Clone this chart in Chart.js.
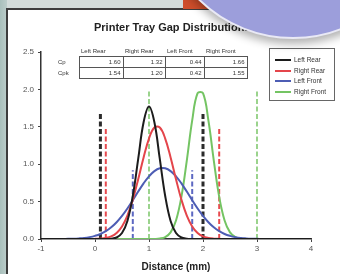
<!DOCTYPE html>
<html lang="en">
<head>
  <meta charset="UTF-8">
  <title>Printer Tray Gap Distributions</title>
  <script src="https://cdn.jsdelivr.net/npm/chart.js"></script>
  <style>
    body {
      margin: 0;
      width: 340px;
      height: 274px;
      overflow: hidden;
      position: relative;
      font-family: "Liberation Sans", Arial, sans-serif;
      background: #d3dcda;
    }
    .strip {
      position: absolute;
      left: 0; top: 0;
      width: 7px; height: 274px;
      background: linear-gradient(to right, #a9c0bc, #bccdca);
    }
    .panel {
      position: absolute;
      left: 6px; top: 8px;
      width: 340px; height: 280px;
      background: #fff;
      border-left: 2px solid #3d3d3d;
      border-top: 2px solid #3d3d3d;
    }
    #chart { position: absolute; left: 0; top: 0; }
    .title {
      position: absolute;
      left: 94px; top: 21px;
      font-weight: bold;
      font-size: 11px;
      color: #222;
      white-space: nowrap;
    }
    table.cp {
      position: absolute;
      left: 57px; top: 47px;
      border-collapse: collapse;
      font-size: 6px;
      color: #333;
    }
    table.cp td { padding: 0 2px; height: 10px; line-height: 10px; }
    table.cp tr.head td { height: 9px; line-height: 9px; text-align: left; }
    table.cp tr.val td.v { border: 1px solid #555; text-align: right; }
    table.cp tr.val td.lab { text-align: left; padding-left: 1px; }
    .legend {
      position: absolute;
      left: 269px; top: 48px;
      width: 64px; height: 51px;
      border: 1px solid #666;
      background: #fff;
      font-size: 6.5px;
      color: #333;
    }
    .legend div { height: 10.5px; line-height: 10.5px; white-space: nowrap; }
    .legend div:first-child { margin-top: 6px; }
    .legend span.swatch {
      display: inline-block;
      width: 16px; height: 2px;
      vertical-align: middle;
      margin: 0 3px 0 5px;
    }
    .orange {
      position: absolute;
      left: 183px; top: 0;
      width: 36px; height: 9px;
      background: #cf4e2b;
    }
    .disc {
      position: absolute;
      left: 158px; top: -231px;
      width: 266px; height: 266px;
      border-radius: 50%;
      background: #9c9edb;
      border: 2px solid #e9e9f5;
      box-shadow: 0 5px 8px rgba(0,0,0,0.3);
    }
  </style>
</head>
<body>
  <div class="strip"></div>
  <div class="panel"></div>
  <canvas id="chart" width="340" height="274"></canvas>
  <div class="title">Printer Tray Gap Distributions</div>
  <table class="cp" id="cpTable"></table>
  <div class="legend" id="legend"></div>
  <div class="orange"></div>
  <div class="disc"></div>

  <script>
    // distance grid (mm)
    const distance = [
      -1.0, -0.9, -0.8, -0.7, -0.6, -0.5, -0.4, -0.3, -0.2, -0.1,
      0.0, 0.1, 0.2, 0.3, 0.4, 0.5, 0.6, 0.7, 0.8, 0.9,
      1.0, 1.1, 1.2, 1.3, 1.4, 1.5, 1.6, 1.7, 1.8, 1.9,
      2.0, 2.1, 2.2, 2.3, 2.4, 2.5, 2.6, 2.7, 2.8, 2.9,
      3.0, 3.1, 3.2, 3.3, 3.4, 3.5, 3.6, 3.7, 3.8, 3.9,
      4.0
    ];

    const leftRear = [
      0, 0, 0, 0, 0, 0, 0, 0, 0, 0,
      0, 0, 0.001, 0.004, 0.02, 0.08, 0.24, 0.575, 1.07, 1.56,
      1.77, 1.56, 1.07, 0.575, 0.24, 0.08, 0.02, 0.004, 0.001, 0,
      0, 0, 0, 0, 0, 0, 0, 0, 0, 0,
      0, 0, 0, 0, 0, 0, 0, 0, 0, 0,
      0
    ];
    const rightRear = [
      0, 0, 0, 0, 0, 0, 0, 0, 0, 0,
      0.002, 0.005, 0.014, 0.035, 0.081, 0.168, 0.313, 0.526, 0.799, 1.091,
      1.343, 1.49, 1.49, 1.343, 1.091, 0.799, 0.526, 0.313, 0.168, 0.081,
      0.035, 0.014, 0.005, 0.002, 0, 0, 0, 0, 0, 0,
      0, 0, 0, 0, 0, 0, 0, 0, 0, 0,
      0
    ];
    const leftFront = [
      0, 0, 0, 0, 0.001, 0.002, 0.004, 0.008, 0.014, 0.025,
      0.042, 0.067, 0.105, 0.156, 0.224, 0.308, 0.408, 0.519, 0.634, 0.744,
      0.838, 0.908, 0.945, 0.945, 0.908, 0.838, 0.744, 0.634, 0.519, 0.408,
      0.308, 0.224, 0.156, 0.105, 0.067, 0.042, 0.025, 0.014, 0.008, 0.004,
      0.002, 0.001, 0, 0, 0, 0, 0, 0, 0, 0,
      0
    ];
    const rightFront = [
      0, 0, 0, 0, 0, 0, 0, 0, 0, 0,
      0, 0, 0, 0, 0, 0, 0, 0, 0, 0,
      0, 0.001, 0.006, 0.025, 0.088, 0.247, 0.564, 1.049, 1.585, 1.949,
      1.949, 1.585, 1.049, 0.564, 0.247, 0.088, 0.025, 0.006, 0.001, 0,
      0, 0, 0, 0, 0, 0, 0, 0, 0, 0,
      0
    ];

    const seriesNames = ['Left Rear', 'Right Rear', 'Left Front', 'Right Front'];
    // spec limits drawn as dashed verticals
    const lowerLimit = [0.1, 0.2, 0.7, 1.0];
    const upperLimit = [2.0, 2.3, 1.8, 3.0];
    const limitHeight = [1.7, 1.5, 0.92, 2.0];
    // capability table
    const cpValues = [1.60, 1.32, 0.44, 1.66];
    const cpkValues = [1.54, 1.20, 0.42, 1.55];

    const curves = [leftRear, rightRear, leftFront, rightFront];
    const lineColors = ['#1c1c1c', '#e4454b', '#4d5db4', '#74c463'];
    const dashColors = ['#2b2b2b', '#e84a4f', '#5d68c2', '#82c971'];
    const dashWidths = [3, 2, 2, 1.6];

    // table
    const table = document.getElementById('cpTable');
    const colW = [45, 43, 40, 44];
    let html = '<tr class="head"><td style="width:18px"></td>' +
      seriesNames.map((n, i) => `<td style="width:${colW[i] - 5}px">${n}</td>`).join('') + '</tr>';
    html += '<tr class="val"><td class="lab">Cp</td>' +
      cpValues.map(v => `<td class="v">${v.toFixed(2)}</td>`).join('') + '</tr>';
    html += '<tr class="val"><td class="lab">Cpk</td>' +
      cpkValues.map(v => `<td class="v">${v.toFixed(2)}</td>`).join('') + '</tr>';
    table.innerHTML = html;

    // legend
    const legend = document.getElementById('legend');
    seriesNames.forEach((n, i) => {
      const row = document.createElement('div');
      row.innerHTML = `<span class="swatch" style="background:${lineColors[i]}"></span>${n}`;
      legend.appendChild(row);
    });

    const datasets = [];
    curves.forEach((c, k) => {
      datasets.push({
        label: seriesNames[k],
        data: distance.map((x, i) => ({ x: x, y: c[i] })),
        borderColor: lineColors[k],
        borderWidth: 2,
        pointRadius: 0,
        tension: 0.4,
        fill: false
      });
    });
    seriesNames.forEach((n, k) => {
      [lowerLimit[k], upperLimit[k]].forEach(lim => {
        datasets.push({
          label: n + ' limit',
          data: [{ x: lim, y: 0 }, { x: lim, y: limitHeight[k] }],
          borderColor: dashColors[k],
          borderWidth: dashWidths[k],
          borderDash: [5, 2.5],
          pointRadius: 0,
          fill: false
        });
      });
    });

    new Chart(document.getElementById('chart').getContext('2d'), {
      type: 'line',
      data: { datasets: datasets },
      options: {
        responsive: false,
        animation: false,
        layout: { padding: { left: 8, top: 52, right: 29, bottom: 0 } },
        plugins: {
          legend: { display: false },
          tooltip: { enabled: false }
        },
        scales: {
          x: {
            type: 'linear',
            min: -1,
            max: 4,
            ticks: { stepSize: 1, color: '#555', font: { size: 8, family: 'Liberation Sans' }, padding: 2 },
            grid: { drawOnChartArea: false, tickLength: 3, color: '#444' },
            border: { color: '#333', width: 1.5 },
            title: {
              display: true,
              text: 'Distance (mm)',
              color: '#222',
              font: { size: 10, weight: 'bold', family: 'Liberation Sans' },
              padding: { top: 0, bottom: 1 }
            },
            afterFit: s => { s.height = 35; }
          },
          y: {
            min: 0,
            max: 2.5,
            ticks: {
              stepSize: 0.5,
              color: '#555',
              font: { size: 8, family: 'Liberation Sans' },
              padding: 4,
              callback: v => v.toFixed(1)
            },
            grid: { drawOnChartArea: false, tickLength: 3, color: '#444' },
            border: { color: '#333', width: 1.5 },
            afterFit: s => { s.width = 33; }
          }
        }
      }
    });
  </script>
</body>
</html>
